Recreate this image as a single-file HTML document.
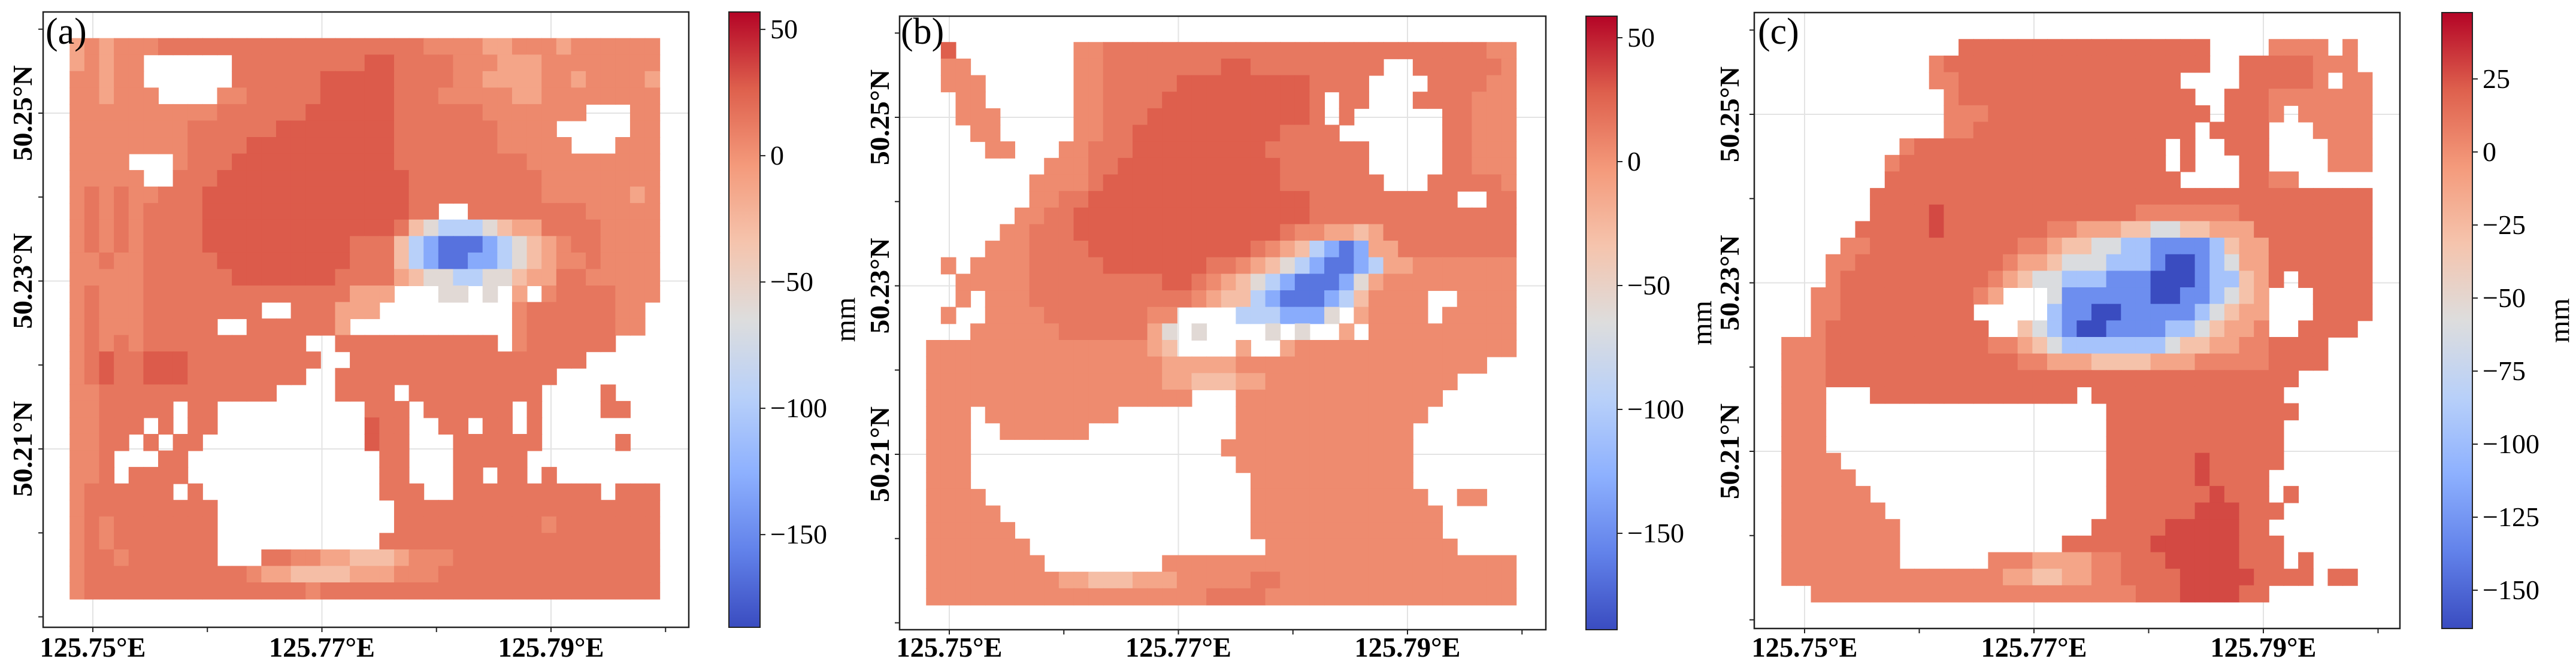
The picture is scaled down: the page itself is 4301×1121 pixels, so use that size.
<!DOCTYPE html>
<html><head><meta charset="utf-8"><style>
html,body{margin:0;padding:0;background:#fff;width:4301px;height:1121px;overflow:hidden}
svg{display:block}
text{font-family:"Liberation Serif",serif;fill:#000}
</style></head><body>
<svg id="fig" width="4301" height="1121" viewBox="0 0 4301 1121" xmlns="http://www.w3.org/2000/svg"></svg>
<script>
// ---- data ----
const cellCodes = ['0','1','2','3','4','5','6','7','8','9'];
const cellValues = [-165,-130,-95,-60,-30,-12,5,15,28,40];
const lonMajorTicks = [125.75,125.77,125.79];
const lonMinorTicks = [125.74,125.76,125.78,125.80];
const latMajorTicks = [50.21,50.23,50.25];
const latMinorTicks = [50.19,50.20,50.22,50.24,50.26];
const cbTicksA = [50,0,-50,-100,-150];
const cbTicksB = [50,0,-50,-100,-150];
const cbTicksC = [25,0,-25,-50,-75,-100,-125,-150];
const panelLabels = ['(a)','(b)','(c)'];
const gridExtent = [125.748,125.7995,50.2589,50.1921]; // lonW, lonE, latN, latS
const gridA = [
"5656667777|7777777777|7777666655|6665666666",
"56566.....|.777777777|8877776665|5566666666",
"66566.....|.777777888|8877776655|5566566665",
"665666....|6677777888|8877766666|5566666666",
"6666666666|7777778888|8877777766|66666...66",
"6666666677|7777888888|8877777776|666.....66",
"6666666677|7788888888|8877777776|6666...666",
"6666...677|7888888888|8877777777|7666666666",
"66666..777|8888888888|8887777777|7766666666",
"6767667778|8888888888|8887777777|7766666656",
"6767677778|8888888888|88877..777|7777766666",
"6767677778|8888888888|8874322234|5577776666",
"6767677778|8888888887|7742100012|3456776666",
"6676677777|8888888887|7742100112|3456676666",
"6666677777|7888888877|7754332233|4557766666",
"6766677777|7777777775|55...33.3.|5.67777666",
"6766677777|777..77755|5.........|677777766.",
"6766677777|..7777775.|..........|677777766.",
"6767677777|777777..77|777777777.|6777777...",
"6787788877|7777777..7|7777777777|77777.....",
"6787788877|777777..77|7777777777|777.......",
"6677777777|7777....77|77.7777777|77....7...",
"6677777.77|..........|777.777777|.7....77..",
"66777.7.77|..........|877..77.77|.7........",
"6677.7.77.|..........|877...7777|77.....7..",
"667...77..|..........|.77...7777|7.........",
"667.7777..|..........|.77...77.7|7.7.......",
"6777777.7.|..........|.777..7777|777777.777",
"6777777777|..........|..77777777|7777777777",
"6767777777|..........|..77777777|7767777777",
"6767777777|..........|.777777777|7777777777",
"6776777777|...7766554|4456667777|7777777777",
"6777777777|7765544445|5566677777|7777777777",
"6777777777|7777776777|7777777777|7777777777"];
const gridB = [
".8........|6677777777|7777777777|7777777766",
".66.......|6677777777|8877777777|7..7777776",
".666......|6677777888|8888887777|....777766",
"..66......|6677778888|8888887.77|...7777666",
"..666.....|6677788888|8888887.7.|.....77666",
"...66.....|6677888888|88887777..|.....77666",
"....66...6|6777888888|8887777777|.....77666",
"........66|6778888888|8888777777|.....77666",
".......666|6788888888|8888777777|7...777776",
".......667|7888888888|8888887777|777777..77",
"......6677|8888888888|8888887777|7777777777",
".....66777|8888888888|8888766554|5777777777",
"....666777|7888888888|8876542101|5577777777",
".6.6666777|7788888887|7654321001|2556666666",
"..66666777|7777778876|5432100013|5666666666",
"..6.666777|7777777765|4421000124|6666..6666",
".6..666677|7777766...|.2221113.5|6666.66666",
"...6666667|7777753.3.|...3.3..5.|6666666666",
"6666666666|6666654...|.5..566666|6666666666",
"6666666666|6666665555|5666666666|66666666..",
"6666666666|6666665544|4556666666|666666....",
"6666666666|66666666..|.666666666|66666.....",
"666.666666|666.......|.666666666|6666......",
"666..66666|6.........|.666666666|666.......",
"666.......|..........|6666666666|666.......",
"666.......|..........|.666666666|666.......",
"666.......|..........|..66666666|666.......",
"6666......|..........|..66666666|6666..66..",
"66666.....|..........|..66666666|66666.....",
"666666....|..........|..66666666|66666.....",
"6666666...|..........|...6666666|666666....",
"66666666..|......6666|6666666666|6666666666",
"6666666665|5444555666|6677666666|6666666666",
"6666666666|6666666667|7776666666|6666666666"];
const gridC = [
"..........|..77777777|777777777.|...6666.6.",
"..........|6777777777|777777777.|.77777666.",
"..........|6677777777|7777777...|.777776.66",
"..........|.677777777|77777777..|7776666666",
"..........|.666777777|777777777.|7776.66666",
"..........|.667777777|77777777.7|777...6666",
"........67|7777777777|777777.7..|777....666",
".......677|7777777777|777777.7..|.77....666",
".......777|7777777777|7777777...|.7766.....",
"......7777|7777777777|7777777777|7777777777",
"......7777|8777777777|7777666666|6777777777",
".....77777|8777777766|5554433445|5577777777",
"....667777|7777776654|4332211112|4557777777",
"...6677777|7777765543|3322210012|3557777777",
"...6777777|7777654332|2211100012|2457.77777",
"..66777777|77765...31|1111100112|345...7777",
"..66777777|777.....21|1001111123|455...7777",
"..67777777|7777..4321|0011112234|556..7777.",
"6667777777|7777665432|2222223445|5667777...",
"6667777777|7777776655|5444455566|6667777...",
"6667777777|7777777777|7777777777|77777.....",
"666...7777|7777777777|.777777777|7777......",
"666.......|..........|..77777777|77777.....",
"666.......|..........|..77777777|7777......",
"666.......|..........|..77777777|7777......",
"6666......|..........|..77777787|7777......",
"66666.....|..........|..77777787|777.......",
"666666....|..........|..77777778|777.7.....",
"6666666...|..........|..77777788|8777......",
"66666666..|..........|.777778888|877.......",
"66666666..|.........7|7777788888|8777......",
"66666666..|....666555|5667778888|8777.7....",
"6666666666|6666655445|5667777888|887777.77.",
"..66666666|6666666666|6666777888|877......."];

// ---- colormap (coolwarm) ----
const cw = [[0,58,76,192],[0.125,98,130,234],[0.25,141,176,254],[0.375,184,208,249],[0.5,221,221,221],[0.625,245,196,173],[0.75,244,154,123],[0.875,222,96,77],[1,180,4,38]];
function cmap(t){t=Math.max(0,Math.min(1,t));for(let i=1;i<cw.length;i++){if(t<=cw[i][0]){const a=cw[i-1],b=cw[i],f=(t-a[0])/(b[0]-a[0]);return 'rgb('+[1,2,3].map(k=>Math.round(a[k]+(b[k]-a[k])*f)).join(',')+')';}}return 'rgb(180,4,38)';}

const NS='http://www.w3.org/2000/svg';
const svg=document.getElementById('fig');
function mk(tag,attrs,parent){const e=document.createElementNS(NS,tag);for(const k in attrs)e.setAttribute(k,attrs[k]);(parent||svg).appendChild(e);return e;}

// gradient defs
const defs=mk('defs',{});
const lg=mk('linearGradient',{id:'cwgrad',x1:0,y1:1,x2:0,y2:0},defs);
cw.forEach(s=>mk('stop',{offset:s[0],'stop-color':cmap(s[0])},lg));

const panels=[
 {key:'a',grid:gridA,frame:[72,20,1150,1048],lonX0:155,pxLon:382.5,latY0:189,pxLat:280.5,cb:[1217,20,1269,1048],vmin:-186.7,vmax:56.9,cbTicks:cbTicksA,mmX:1427,ylabX:53,labX:76},
 {key:'b',grid:gridB,frame:[1502,27,2581,1052],lonX0:1585,pxLon:382.5,latY0:196,pxLat:281.5,cb:[2648,27,2700,1052],vmin:-188.9,vmax:58.7,cbTicks:cbTicksB,mmX:2857,ylabX:1484,labX:1504},
 {key:'c',grid:gridC,frame:[2929,21,4007,1050],lonX0:3013,pxLon:383,latY0:191,pxLat:281.5,cb:[4077,21,4128,1050],vmin:-163.1,vmax:47.7,cbTicks:cbTicksC,mmX:4289,ylabX:2903,labX:2935}
];

panels.forEach((p,pi)=>{
 const g=mk('g',{});
 
 
 const X=lon=>p.lonX0+(lon-125.75)/0.02*p.pxLon;
 const Y=lat=>p.latY0-(lat-50.25)/0.02*p.pxLat;
 const [fx0,fy0,fx1,fy1]=p.frame;
 // gridlines
 lonMajorTicks.forEach(v=>{const l=mk('line',{x1:X(v),x2:X(v),y1:fy0,y2:fy1,stroke:'#e3e3e3','stroke-width':2},g);});
 latMajorTicks.forEach(v=>{const l=mk('line',{x1:fx0,x2:fx1,y1:Y(v),y2:Y(v),stroke:'#e3e3e3','stroke-width':2},g);});
 // cells
 const rows=p.grid.map(r=>r.replace(/\|/g,''));
 const nr=rows.length,nc=40;
 const dLon=(gridExtent[1]-gridExtent[0])/nc, dLat=(gridExtent[2]-gridExtent[3])/nr;
 const cells=mk('g',{},g);
 
 
 rows.forEach((row,ri)=>{
  for(let ci=0;ci<nc;ci++){
   const ch=row[ci]||'.';const idx=cellCodes.indexOf(ch);if(idx<0)continue;
   const v=cellValues[idx];
   const x0=X(gridExtent[0]+ci*dLon),x1=X(gridExtent[0]+(ci+1)*dLon);
   const y0=Y(gridExtent[2]-ri*dLat),y1=Y(gridExtent[2]-(ri+1)*dLat);
   const r=mk('rect',{x:x0-0.5,y:y0-0.5,width:x1-x0+1,height:y1-y0+1,fill:cmap((v-p.vmin)/(p.vmax-p.vmin))},cells);
   
   
  }
 });
 // frame
 const fr=mk('rect',{x:fx0,y:fy0,width:fx1-fx0,height:fy1-fy0,fill:'none',stroke:'#222','stroke-width':2.5},g);
 
 // ticks
 lonMajorTicks.concat(lonMinorTicks).forEach(v=>{const x=X(v);if(x<fx0||x>fx1)return;const t=mk('line',{x1:x,x2:x,y1:fy1,y2:fy1+8,stroke:'#222','stroke-width':2},g);});
 latMajorTicks.concat(latMinorTicks).forEach(v=>{const y=Y(v);if(y<fy0||y>fy1)return;const t=mk('line',{x1:fx0-8,x2:fx0,y1:y,y2:y,stroke:'#222','stroke-width':2},g);});
 lonMajorTicks.forEach(v=>{const t=mk('text',{x:X(v),y:1097,'text-anchor':'middle','font-size':47,'font-weight':'bold',textLength:177,lengthAdjust:'spacingAndGlyphs'},g);t.textContent=v.toFixed(2)+'°E';});
 latMajorTicks.forEach(v=>{const y=Y(v);const t=mk('text',{x:0,y:0,transform:'translate('+p.ylabX+','+y+') rotate(-90)','text-anchor':'middle','font-size':46,'font-weight':'bold',textLength:160,lengthAdjust:'spacingAndGlyphs'},g);t.textContent=v.toFixed(2)+'°N';});
 // panel label
 const pl=mk('text',{x:p.labX,y:73,'font-size':62},g);pl.textContent=panelLabels[pi];
 
 // colorbar
 const [cx0,cy0,cx1,cy1]=p.cb;
 const cb=mk('rect',{x:cx0,y:cy0,width:cx1-cx0,height:cy1-cy0,fill:'url(#cwgrad)',stroke:'#222','stroke-width':2},g);
 
 const CY=v=>cy1-(v-p.vmin)/(p.vmax-p.vmin)*(cy1-cy0);
 p.cbTicks.forEach(v=>{const y=CY(v);
  const t=mk('line',{x1:cx1,x2:cx1+9,y1:y,y2:y,stroke:'#222','stroke-width':2},g);
  const s=mk('text',{x:cx1+17,y:y+15,'font-size':46},g);s.textContent=(v<0?'\u2212'+(-v):''+v);
  });
 const mm=mk('text',{x:0,y:0,transform:'translate('+p.mmX+','+((cy0+cy1)/2)+') rotate(-90)','text-anchor':'middle','font-size':48},g);
 mm.textContent='mm';
});
</script>
</body></html>
